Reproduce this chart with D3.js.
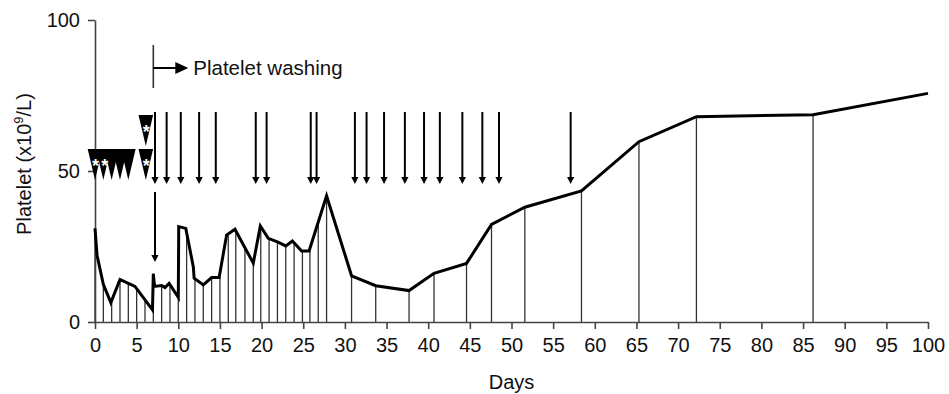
<!DOCTYPE html>
<html lang="en">
<head>
    <meta charset="UTF-8">
    <title>Platelet count</title>
    <style>
        body { margin: 0; background: #fff; }
        svg text { font-family: "Liberation Sans", Arial, sans-serif; }
    </style>
</head>
<body>
    <svg width="949" height="394"></svg>
    <script src="https://d3js.org/d3.v7.min.js"></script>
    <script>
        // platelet counts (x10^9/L) by day
        var lineDays = [0, 0.25, 1, 1.9, 3, 4, 4.8, 6.9, 7, 7.15, 8, 8.4, 8.9, 10, 10.05, 10.9, 11.8, 11.9, 13, 14, 14.9,
            15.8, 16.8, 19, 19.85, 20.8, 21.9, 22.9, 23.7, 24.8, 25.7, 27.8, 30.8, 33.7, 37.7, 40.7, 44.6, 47.6,
            51.6, 58.4, 65.3, 72.2, 86.2, 100];
        var lineValues = [31, 22, 12.5, 6.4, 14.1, 12.8, 11.8, 4, 16, 11.8, 12.1, 11.4, 12.8, 8.2, 31.6, 31, 18.3, 14.5, 12.3, 14.7, 14.7,
            28.8, 30.7, 19.5, 31.8, 27.7, 26.5, 25.2, 26.8, 23.5, 23.5, 41.8, 15.3, 12, 10.4, 16.1, 19.4, 32.3,
            38, 43.4, 59.7, 68, 68.6, 75.7];

        // days with a measurement drop line
        var dropDays = [0, 1, 2, 3, 4, 5, 6, 7, 8, 9, 10, 11, 12, 13, 14, 15, 16, 16.9, 18, 19, 19.9, 20.9, 21.9,
            22.9, 23.9, 24.9, 25.8, 26.8, 27.8, 30.8, 33.7, 37.7, 40.7, 44.6, 47.6, 51.6, 58.4, 65.3, 72.2, 86.2];

        // platelet washing transfusions
        var arrowDays = [7.2, 8.6, 10.3, 12.5, 14.5, 19.3, 20.6, 25.9, 26.6, 31.2, 32.6, 34.7, 37.2, 39.5,
            41.4, 44.1, 46.5, 48.5, 57.1];
        var longArrowDay = 7.2;
        var washingStartDay = 7;

        // unwashed transfusions (triangles), row 1 is stacked above row 0
        var triangleDays = [0, 1, 2, 3, 4, 6.1, 6.1];
        var triangleRows = [0, 0, 0, 0, 0, 0, 1];
        var triangleStars = [true, true, false, false, false, true, true];

        var xTickValues = [0, 5, 10, 15, 20, 25, 30, 35, 40, 45, 50, 55, 60, 65, 70, 75, 80, 85, 90, 95, 100];
        var yTickValues = [0, 50, 100];

        var svg = d3.select("svg");
        var font = "'Liberation Sans', Arial, sans-serif";

        var x = d3.scaleLinear().domain([0, 100]).range([95, 928]);
        var y = d3.scaleLinear().domain([0, 100]).range([322, 20]);

        // piecewise line through the measured points
        var lineAt = d3.scaleLinear().domain(lineDays).range(lineValues);

        // drop lines
        svg.append("g")
            .selectAll("line")
            .data(dropDays)
            .enter().append("line")
            .attr("x1", function(d) { return x(d); })
            .attr("x2", function(d) { return x(d); })
            .attr("y1", y(0))
            .attr("y2", function(d) { return y(lineAt(d)); })
            .attr("stroke", "#333")
            .attr("stroke-width", 1.3);

        // axes
        var xAxis = svg.append("g")
            .attr("transform", "translate(0," + y(0) + ")")
            .call(d3.axisBottom(x).tickValues(xTickValues).tickSize(7).tickSizeOuter(0).tickPadding(9));
        var yAxis = svg.append("g")
            .attr("transform", "translate(" + x(0) + ",0)")
            .call(d3.axisLeft(y).tickValues(yTickValues).tickSize(7).tickSizeOuter(0).tickPadding(8));

        [xAxis, yAxis].forEach(function(g) {
            g.attr("font-size", 20).attr("font-family", font);
            g.selectAll("path, line").attr("stroke", "#444").attr("stroke-width", 1.6);
            g.selectAll("text").attr("fill", "#111");
        });

        // platelet line
        svg.append("path")
            .datum(lineDays.map(function(d, i) { return [d, lineValues[i]]; }))
            .attr("fill", "none")
            .attr("stroke", "#000")
            .attr("stroke-width", 3)
            .attr("stroke-linejoin", "miter")
            .attr("d", d3.line()
                .x(function(d) { return x(d[0]); })
                .y(function(d) { return y(d[1]); }));

        // downward arrows
        function downArrow(xp, y1, tip) {
            svg.append("line")
                .attr("x1", xp).attr("x2", xp)
                .attr("y1", y1).attr("y2", tip - 5)
                .attr("stroke", "#000").attr("stroke-width", 2);
            svg.append("path")
                .attr("d", "M" + (xp - 3.6) + "," + (tip - 7) + "L" + (xp + 3.6) + "," + (tip - 7) + "L" + xp + "," + tip + "Z")
                .attr("fill", "#000");
        }
        arrowDays.forEach(function(d) { downArrow(x(d), 112, 184); });
        downArrow(x(longArrowDay), 192, 262);

        // triangles
        var triTop = [149, 115];
        var triH = 31;
        triangleDays.forEach(function(d, i) {
            var cx = x(d), top = triTop[triangleRows[i]];
            svg.append("path")
                .attr("d", "M" + (cx - 7.3) + "," + top + "L" + (cx + 7.3) + "," + top + "L" + cx + "," + (top + triH) + "Z")
                .attr("fill", "#000");
        });
        triangleDays.forEach(function(d, i) {
            if (!triangleStars[i]) return;
            svg.append("text")
                .attr("x", x(d) + (triangleRows[i] === 0 && d === 1 ? 1.5 : 0.5))
                .attr("y", triTop[triangleRows[i]] + 23)
                .attr("text-anchor", "middle")
                .attr("font-size", 18)
                .attr("font-weight", "bold")
                .attr("fill", "#fff")
                .text("*");
        });

        // platelet washing marker
        var wx = x(washingStartDay);
        svg.append("line")
            .attr("x1", wx).attr("x2", wx).attr("y1", 45).attr("y2", 88)
            .attr("stroke", "#333").attr("stroke-width", 1.6);
        svg.append("line")
            .attr("x1", wx).attr("x2", wx + 24).attr("y1", 68).attr("y2", 68)
            .attr("stroke", "#000").attr("stroke-width", 2);
        svg.append("path")
            .attr("d", "M" + (wx + 22) + ",62L" + (wx + 35) + ",68L" + (wx + 22) + ",74Z")
            .attr("fill", "#000");
        svg.append("text")
            .attr("x", wx + 40)
            .attr("y", 75)
            .attr("font-size", 20.5)
            .attr("fill", "#111")
            .text("Platelet washing");

        // axis titles
        svg.append("text")
            .attr("x", x(50))
            .attr("y", 389)
            .attr("text-anchor", "middle")
            .attr("font-size", 20)
            .attr("fill", "#111")
            .text("Days");

        var yl = svg.append("text")
            .attr("transform", "translate(31,164) rotate(-90)")
            .attr("text-anchor", "middle")
            .attr("font-size", 20)
            .attr("fill", "#111");
        yl.append("tspan").text("Platelet (x10");
        yl.append("tspan").attr("font-size", 13).attr("dy", -8).text("9");
        yl.append("tspan").attr("dy", 8).text("/L)");
    </script>
</body>
</html>
